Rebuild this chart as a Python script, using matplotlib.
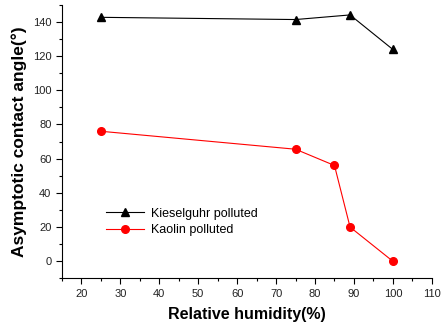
import numpy as np
import matplotlib
matplotlib.use("Agg")
import matplotlib.pyplot as plt
from matplotlib.ticker import MultipleLocator

plt.rcParams['font.family'] = ['Liberation Sans', 'DejaVu Sans']

# data
rh_kiesel = [25, 75, 89, 100]
angle_kiesel = [142.6, 141.3, 144.0, 123.8]
rh_kaolin = [25, 75, 85, 89, 100]
angle_kaolin = [76, 65.5, 56, 20, 0]

fig = plt.figure(figsize=(4.42, 3.33), dpi=100)
ax = fig.add_axes([0.140, 0.164, 0.837, 0.822])

ax.plot(rh_kiesel, angle_kiesel, color='k', lw=0.8, marker='^', ms=6,
        label='Kieselguhr polluted')
ax.plot(rh_kaolin, angle_kaolin, color='red', lw=0.8, marker='o', ms=5.5,
        label='Kaolin polluted')

ax.set_xlim(15, 110)
ax.set_ylim(-10, 150)
ax.xaxis.set_major_locator(MultipleLocator(10))
ax.xaxis.set_minor_locator(MultipleLocator(5))
ax.yaxis.set_major_locator(MultipleLocator(20))
ax.yaxis.set_minor_locator(MultipleLocator(10))
ax.set_xticks(np.arange(20, 111, 10))
ax.set_yticks(np.arange(0, 141, 20))

for s in ['top', 'right']:
    ax.spines[s].set_visible(False)
ax.tick_params(which='major', direction='out', length=4, width=0.8,
               labelsize=8, labelcolor='#222222')
ax.tick_params(which='minor', direction='out', length=2.5, width=0.8)

ax.set_xlabel('Relative humidity(%)', fontsize=11.5, fontweight='bold',
              labelpad=6)
ax.set_ylabel('Asymptotic contact angle(°)', fontsize=12.5, fontweight='bold',
              labelpad=4)

ax.legend(loc='upper left', bbox_to_anchor=(0.09, 0.30), frameon=False,
          fontsize=9, handlelength=3, labelspacing=0.35, handletextpad=0.6)

fig.savefig('out.png', dpi=100)
